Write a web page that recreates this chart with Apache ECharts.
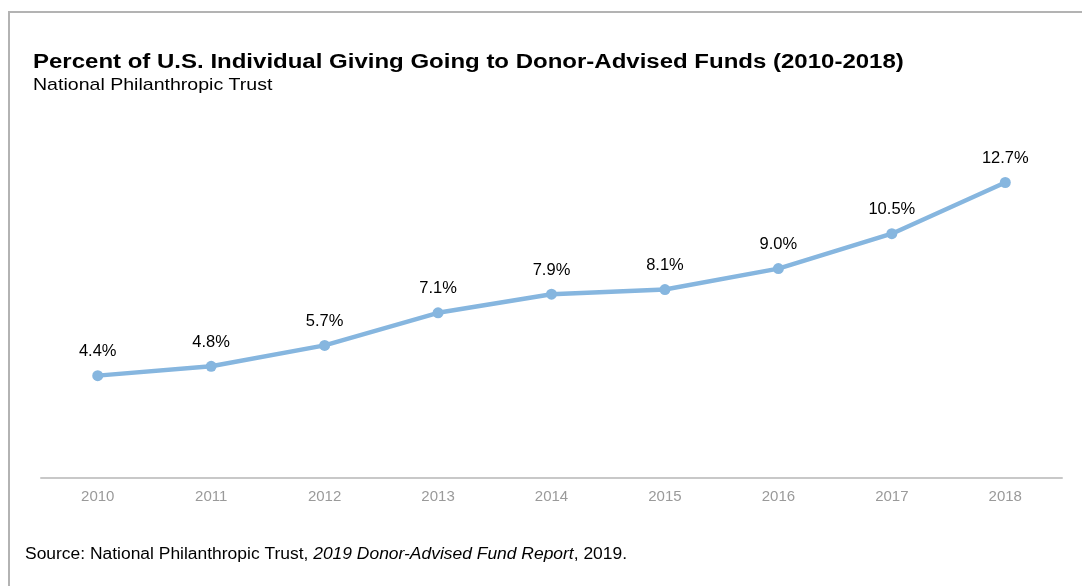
<!DOCTYPE html>
<html>
<head>
<meta charset="utf-8">
<script src="https://cdn.jsdelivr.net/npm/echarts@6/dist/echarts.min.js"></script>
<style>
  html, body { margin: 0; padding: 0; background: #fff; }
  #frame { position: absolute; left: 8px; top: 11px; width: 1100px; height: 600px; border-left: 2px solid #b3b3b3; border-top: 2px solid #b3b3b3; box-sizing: border-box; }
  #chart { position: absolute; left: 0; top: 0; width: 1082px; height: 586px; }
</style>
</head>
<body>
<div id="frame"></div>
<div id="chart"></div>
<script>
const years = ['2010', '2011', '2012', '2013', '2014', '2015', '2016', '2017', '2018'];
const sharePct = [4.4, 4.8, 5.7, 7.1, 7.9, 8.1, 9.0, 10.5, 12.7];
const titleText = 'Percent of U.S. Individual Giving Going to Donor-Advised Funds (2010-2018)';
const subtitleText = 'National Philanthropic Trust';
const sourcePlain = 'Source: National Philanthropic Trust, ';
const sourceItalic = '2019 Donor-Advised Fund Report';
const sourceEnd = ', 2019.';

const FONT = '"Liberation Sans", Arial, sans-serif';
const chart = echarts.init(document.getElementById('chart'), null, { renderer: 'canvas' });
chart.setOption({
  animation: false,
  backgroundColor: 'transparent',
  graphic: [
    {
      type: 'text', x: 33, y: 62, scaleX: 1.2,
      style: { text: titleText, fontFamily: FONT, fontWeight: 'bold', fontSize: 20, fill: '#000', align: 'left', verticalAlign: 'middle' }
    },
    {
      type: 'text', x: 33, y: 85.5, scaleX: 1.15,
      style: { text: subtitleText, fontFamily: FONT, fontSize: 17, fill: '#000', align: 'left', verticalAlign: 'middle' }
    },
    {
      type: 'text', x: 25, y: 555, scaleX: 1.09,
      style: {
        text: '{n|' + sourcePlain + '}{i|' + sourceItalic + '}{n|' + sourceEnd + '}',
        align: 'left', verticalAlign: 'middle',
        rich: {
          n: { fontFamily: FONT, fontSize: 16, fill: '#000', fontWeight: 'normal' },
          i: { fontFamily: FONT, fontSize: 16, fontStyle: 'italic', fill: '#000', fontWeight: 'normal' }
        }
      }
    }
  ],
  grid: { left: 41, right: 20, top: 129, bottom: 108, containLabel: false },
  xAxis: {
    type: 'category',
    data: years,
    boundaryGap: true,
    axisLine: { lineStyle: { color: '#c8c8c8', width: 2 } },
    axisTick: { show: false },
    axisLabel: { color: '#9a9a9a', fontSize: 15, fontFamily: FONT, margin: 11 }
  },
  yAxis: {
    type: 'value',
    min: 0,
    max: 15,
    show: false,
    splitLine: { show: false }
  },
  series: [{
    type: 'line',
    data: sharePct,
    symbol: 'circle',
    symbolSize: 11,
    lineStyle: { color: '#86b6df', width: 4.5 },
    itemStyle: { color: '#86b6df' },
    label: {
      show: true,
      position: 'top',
      distance: 10,
      formatter: p => p.value.toFixed(1) + '%',
      color: '#000',
      fontSize: 16.5,
      fontFamily: FONT
    }
  }]
});
</script>
</body>
</html>
